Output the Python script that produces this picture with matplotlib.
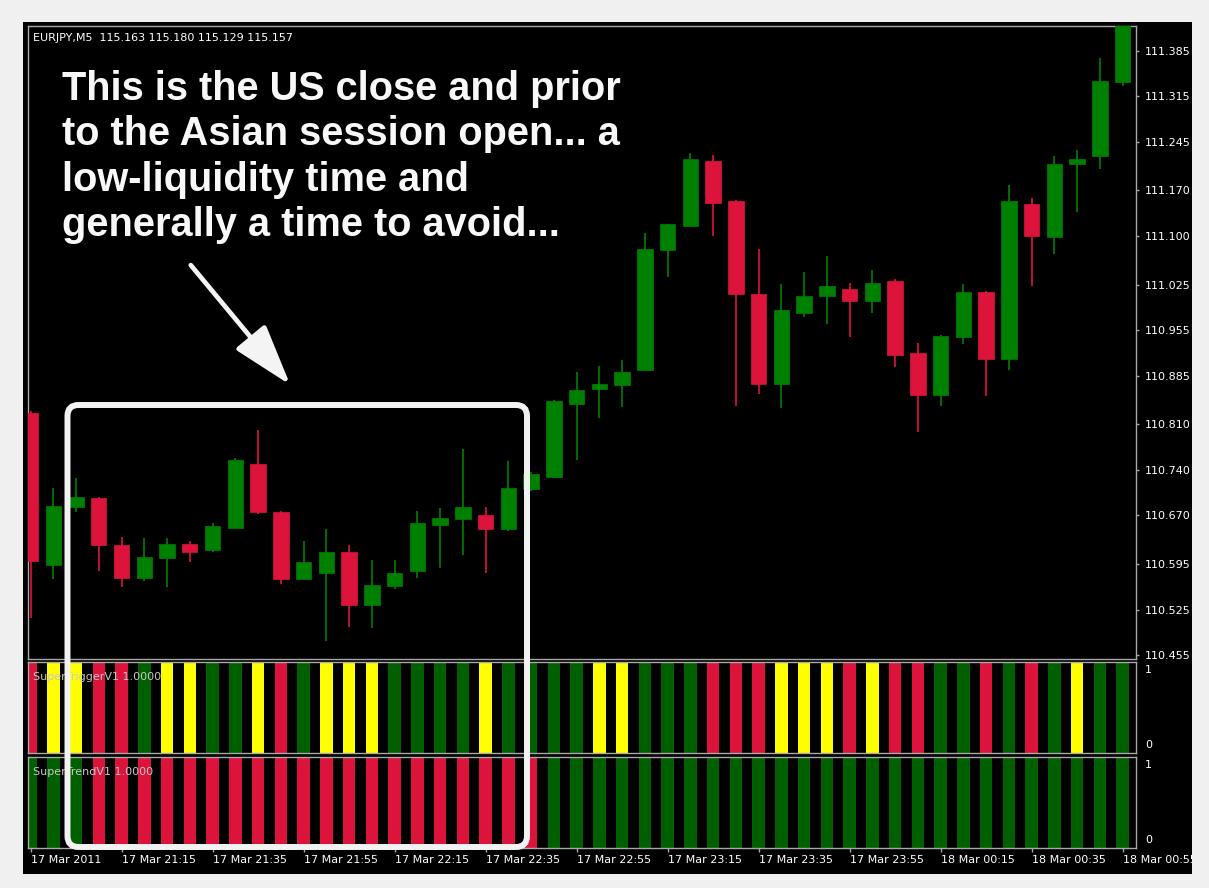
import matplotlib
matplotlib.use('Agg')
import matplotlib.pyplot as plt
from matplotlib.patches import Rectangle, FancyBboxPatch, FancyArrowPatch

# ---------------- data ----------------
opens = [110.828, 110.594, 110.683, 110.696, 110.624, 110.574, 110.605, 110.626, 110.616, 110.651,
         110.749, 110.675, 110.572, 110.581, 110.613, 110.532, 110.561, 110.585, 110.655, 110.664,
         110.671, 110.649, 110.710, 110.729, 110.842, 110.864, 110.871, 110.893, 111.078, 111.116,
         111.216, 111.154, 111.010, 110.872, 110.982, 111.008, 111.019, 111.000, 111.030, 110.920,
         110.855, 110.945, 111.014, 110.910, 111.149, 111.098, 111.210, 111.223, 111.337]
highs = [110.830, 110.712, 110.727, 110.699, 110.637, 110.635, 110.635, 110.631, 110.659, 110.759,
         110.801, 110.677, 110.631, 110.649, 110.624, 110.602, 110.602, 110.677, 110.682, 110.772,
         110.683, 110.754, 110.736, 110.847, 110.890, 110.900, 110.909, 111.104, 111.119, 111.227,
         111.224, 111.155, 111.080, 111.026, 111.045, 111.069, 111.027, 111.048, 111.034, 110.936,
         110.947, 111.026, 111.015, 111.179, 111.159, 111.223, 111.232, 111.374, 111.460]
lows = [110.512, 110.572, 110.675, 110.585, 110.560, 110.569, 110.560, 110.598, 110.613, 110.649,
        110.672, 110.565, 110.571, 110.477, 110.499, 110.497, 110.556, 110.574, 110.589, 110.609,
        110.582, 110.646, 110.708, 110.728, 110.755, 110.820, 110.837, 110.892, 111.037, 111.115,
        111.100, 110.839, 110.857, 110.835, 110.976, 110.964, 110.945, 110.982, 110.899, 110.798,
        110.839, 110.934, 110.854, 110.894, 111.023, 111.072, 111.137, 111.203, 111.331]
closes = [110.600, 110.685, 110.699, 110.624, 110.574, 110.606, 110.626, 110.614, 110.653, 110.755,
          110.675, 110.572, 110.598, 110.613, 110.532, 110.563, 110.581, 110.659, 110.666, 110.683,
          110.649, 110.712, 110.734, 110.846, 110.863, 110.872, 110.891, 111.080, 111.118, 111.218,
          111.151, 111.011, 110.872, 110.986, 111.008, 111.023, 111.000, 111.027, 110.917, 110.855,
          110.946, 111.014, 110.910, 111.153, 111.100, 111.210, 111.218, 111.339, 111.450]

# SuperTrigger state per bar: R = down, Y = neutral, G = up
trigger_state = ['R', 'Y', 'Y', 'R', 'R', 'G', 'Y', 'Y', 'G', 'G',
                 'Y', 'R', 'G', 'Y', 'Y', 'Y', 'G', 'G', 'G', 'G',
                 'Y', 'G', 'G', 'G', 'G', 'Y', 'Y', 'G', 'G', 'G',
                 'R', 'R', 'R', 'Y', 'Y', 'Y', 'R', 'Y', 'R', 'R',
                 'G', 'G', 'R', 'G', 'R', 'G', 'Y', 'G', 'G']
trigger_level = [1, 1, 1, 1, 1, 1, 1, 1, 1, 1, 1, 1, 1, 1, 1, 1, 1, 1, 1, 1, 1, 1, 1, 1, 1,
                 1, 1, 1, 1, 1, 1, 1, 1, 1, 1, 1, 1, 1, 1, 1, 1, 1, 1, 1, 1, 1, 1, 1, 1]
# SuperTrend state per bar
trend_state = ['G', 'G', 'G', 'R', 'R', 'R', 'R', 'R', 'R', 'R',
               'R', 'R', 'R', 'R', 'R', 'R', 'R', 'R', 'R', 'R',
               'R', 'R', 'R', 'G', 'G', 'G', 'G', 'G', 'G', 'G',
               'G', 'G', 'G', 'G', 'G', 'G', 'G', 'G', 'G', 'G',
               'G', 'G', 'G', 'G', 'G', 'G', 'G', 'G', 'G']
trend_level = [1, 1, 1, 1, 1, 1, 1, 1, 1, 1, 1, 1, 1, 1, 1, 1, 1, 1, 1, 1, 1, 1, 1, 1, 1,
               1, 1, 1, 1, 1, 1, 1, 1, 1, 1, 1, 1, 1, 1, 1, 1, 1, 1, 1, 1, 1, 1, 1, 1]

price_ticks = [111.385, 111.315, 111.245, 111.170, 111.100, 111.025, 110.955,
               110.885, 110.810, 110.740, 110.670, 110.595, 110.525, 110.455]
time_tick_bars = [0, 4, 8, 12, 16, 20, 24, 28, 32, 36, 40, 44, 48]
time_tick_labels = ['17 Mar 2011', '17 Mar 21:15', '17 Mar 21:35', '17 Mar 21:55',
                    '17 Mar 22:15', '17 Mar 22:35', '17 Mar 22:55', '17 Mar 23:15',
                    '17 Mar 23:35', '17 Mar 23:55', '18 Mar 00:15', '18 Mar 00:35',
                    '18 Mar 00:55']

header = 'EURJPY,M5  115.163 115.180 115.129 115.157'
note_lines = ['This is the US close and prior',
              'to the Asian session open... a',
              'low-liquidity time and',
              'generally a time to avoid...']

# ---------------- style ----------------
CANDLE_UP = '#008000'
CANDLE_DN = '#DC143C'
IND_COL = {'R': '#DC143C', 'Y': '#FFFF00', 'G': '#006000'}
SPINE = '#a8a8a8'

W, H = 1209, 888
fig = plt.figure(figsize=(W / 100, H / 100), dpi=100, facecolor='#f0f0f0')
T = fig.dpi_scale_trans


def px(x, y):
    return (x / 100.0, (H - y) / 100.0)


fig.add_artist(Rectangle(px(23, 874), (1193 - 23) / 100, (874 - 22) / 100, transform=T,
                         facecolor='black', edgecolor='none', zorder=-1))


def add_ax(top, bottom):
    a = fig.add_axes([28 / W, 1 - bottom / H, 1108 / W, (bottom - top) / H], facecolor='black')
    for s in a.spines.values():
        s.set_color(SPINE)
        s.set_linewidth(1.0)
    return a


ax = add_ax(26, 659)
ax1 = add_ax(662, 753)
ax2 = add_ax(757, 848)

idx = list(range(len(opens)))
XL = (-0.11, 48.59)

# candles
ccol = [CANDLE_UP if c >= o else CANDLE_DN for o, c in zip(opens, closes)]
ax.vlines(idx, lows, highs, colors=ccol, linewidth=1.2, zorder=2)
ax.bar(idx, [abs(c - o) for o, c in zip(opens, closes)],
       bottom=[min(o, c) for o, c in zip(opens, closes)],
       width=0.68, color=ccol, edgecolor=ccol, linewidth=0.5, zorder=3)
ax.set_xlim(*XL)
ax.set_ylim(110.449, 111.423)
ax.set_xticks([])
ax.yaxis.tick_right()
ax.set_yticks(price_ticks)
ax.set_yticklabels([f'{v:.3f}' for v in price_ticks])
ax.tick_params(axis='y', colors=SPINE, labelcolor='white', length=2.5, width=1,
               labelsize=8, pad=4)

# indicator panels
for a, lvl, st in ((ax1, trigger_level, trigger_state), (ax2, trend_level, trend_state)):
    a.bar(idx, lvl, width=0.55, color=[IND_COL[s] for s in st], linewidth=0)
    a.set_xlim(*XL)
    a.set_ylim(0, 1)
    a.set_yticks([])
    a.text(1.0 + 9 / 1108, 0.97, '1', transform=a.transAxes, color='white',
           fontsize=8, va='top', ha='left')
    a.text(1.0 + 9 / 1108, 0.03, '0', transform=a.transAxes, color='white',
           fontsize=8, va='bottom', ha='left')

ax1.set_xticks([])
ax2.set_xticks(time_tick_bars)
ax2.set_xticklabels(time_tick_labels, ha='left')
ax2.tick_params(axis='x', colors=SPINE, labelcolor='white', length=3, width=1,
                labelsize=8, pad=2)

# texts
fig.text(33 / W, 1 - 38 / H, header, color='white', fontsize=8, va='center', ha='left')
fig.text(33 / W, 1 - 677 / H, 'SuperTriggerV1 1.0000', color='#c8c8c8', fontsize=8,
         va='center', ha='left', zorder=5)
fig.text(33 / W, 1 - 772 / H, 'SuperTrendV1 1.0000', color='#c8c8c8', fontsize=8,
         va='center', ha='left', zorder=5)

baselines = [99.5, 145, 190.7, 235.7]
for line, yb in zip(note_lines, baselines):
    fig.text(62 / W, 1 - yb / H, line, color='#f8f8f8', fontsize=28.6, fontweight='bold',
             family=['Liberation Sans', 'DejaVu Sans'], va='baseline', ha='left', zorder=6)

arrow = FancyArrowPatch(px(189, 263), px(292, 387), transform=T,
                        arrowstyle='-|>,head_length=1.9,head_width=0.6',
                        mutation_scale=20, color='#f4f4f4', linewidth=3.4, zorder=7)
fig.add_artist(arrow)

box = FancyBboxPatch(px(67.5, 847), (527 - 67.5) / 100, (847 - 405) / 100, transform=T,
                     boxstyle='round,pad=0,rounding_size=0.11', facecolor='none',
                     edgecolor='#f2f2f2', linewidth=4.3, zorder=8)
fig.add_artist(box)

# frame margin on the right (clips the last time label like the terminal window)
fig.add_artist(Rectangle(px(1192, 888), 17 / 100, 888 / 100, transform=T,
                         facecolor='#f0f0f0', edgecolor='none', zorder=20))

fig.savefig('out.png', dpi=100, facecolor=fig.get_facecolor())
